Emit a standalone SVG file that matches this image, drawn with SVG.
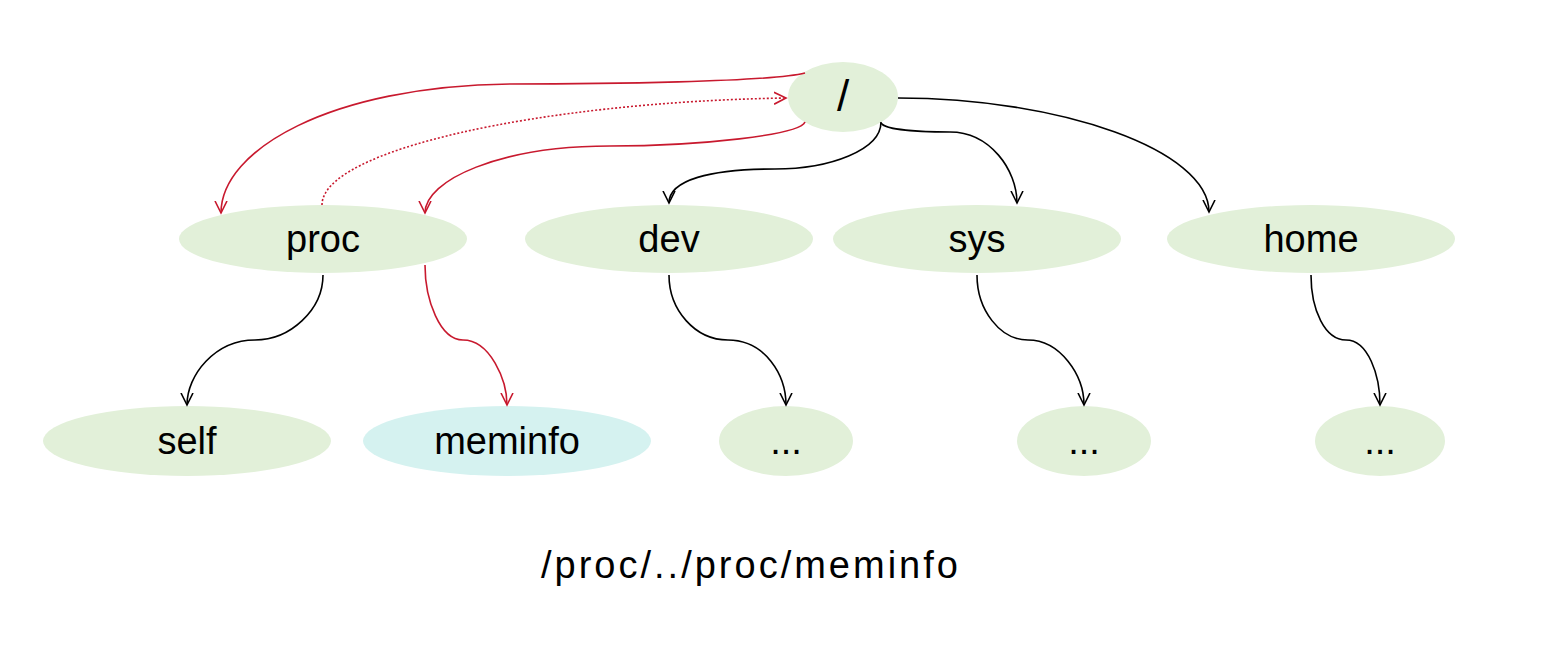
<svg xmlns="http://www.w3.org/2000/svg" width="1546" height="646" viewBox="0 0 1546 646">
<style>
.n{fill:#E2F0D9}
.hl{fill:#D5F2F0}
.t{font-family:"Liberation Sans",Arial,sans-serif;font-size:38px;fill:#000;text-anchor:middle}
.k{fill:none;stroke:#000;stroke-width:1.6}
.r{fill:none;stroke:#C8192E;stroke-width:1.6}
.d{stroke-dasharray:2 2}
</style>
<defs>
<marker id="ab" viewBox="-12 -8 14 16" markerWidth="14" markerHeight="16" refX="0" refY="0" orient="auto" markerUnits="userSpaceOnUse">
<path d="M-12,-6 L0,0 L-12,6" fill="none" stroke="#000" stroke-width="1.6"/>
</marker>
<marker id="ar" viewBox="-12 -8 14 16" markerWidth="14" markerHeight="16" refX="0" refY="0" orient="auto" markerUnits="userSpaceOnUse">
<path d="M-12,-6 L0,0 L-12,6" fill="none" stroke="#C8192E" stroke-width="1.6"/>
</marker>
</defs>
<rect width="1546" height="646" fill="#fff"/>
<g id="root"><ellipse class="n" cx="843" cy="97" rx="55" ry="35"/><text class="t" x="843" y="111" style="font-size:44px">/</text></g>
<g id="proc"><ellipse class="n" cx="323" cy="239" rx="144" ry="34"/><text class="t" x="323" y="252">proc</text></g>
<g id="dev"><ellipse class="n" cx="669" cy="239" rx="144" ry="34"/><text class="t" x="669" y="252">dev</text></g>
<g id="sys"><ellipse class="n" cx="977" cy="239" rx="144" ry="34"/><text class="t" x="977" y="252">sys</text></g>
<g id="home"><ellipse class="n" cx="1311" cy="239" rx="144" ry="34"/><text class="t" x="1311" y="252">home</text></g>
<g id="self"><ellipse class="n" cx="187" cy="441" rx="144" ry="35"/><text class="t" x="187" y="454">self</text></g>
<g id="meminfo"><ellipse class="hl" cx="507" cy="441" rx="144" ry="35"/><text class="t" x="507" y="454">meminfo</text></g>
<g id="devsub"><ellipse class="n" cx="786" cy="441" rx="67" ry="35"/><text class="t" x="786" y="454">...</text></g>
<g id="syssub"><ellipse class="n" cx="1084" cy="441" rx="67" ry="35"/><text class="t" x="1084" y="454">...</text></g>
<g id="homesub"><ellipse class="n" cx="1380" cy="441" rx="65" ry="35"/><text class="t" x="1380" y="454">...</text></g>
<g id="connectors">
<path class="k" marker-end="url(#ab)" d="M881,122 C881,150 830,169 775,169 C710,169 669,180 669,203"/>
<path class="k" marker-end="url(#ab)" d="M881,123 C885,130 920,132 950,132 C990,132 1017,170 1017,203"/>
<path class="k" marker-end="url(#ab)" d="M898,98 C1060,98 1209,150 1209,212"/>
<path class="r" marker-end="url(#ar)" d="M805,73 C770,82 600,84 510,84 C330,86 221,150 221,213"/>
<path class="r d" marker-end="url(#ar)" d="M322,205 C322,150 540,102 786,98"/>
<path class="r" marker-end="url(#ar)" d="M805,122 C800,135 700,146 610,146 C500,146 425,180 425,213"/>
<path class="r" marker-end="url(#ar)" d="M425,265 C425,300 440,340 463,340 C490,340 507,380 507,405"/>
<path class="k" marker-end="url(#ab)" d="M323,275 C323,310 290,340 255,340 C215,340 187,375 187,405"/>
<path class="k" marker-end="url(#ab)" d="M669,275 C669,310 695,340 728,340 C765,340 786,375 786,405"/>
<path class="k" marker-end="url(#ab)" d="M977,275 C977,310 1000,340 1028,340 C1060,340 1084,375 1084,405"/>
<path class="k" marker-end="url(#ab)" d="M1311,275 C1311,310 1325,340 1346,340 C1368,340 1380,375 1380,405"/>
</g>
<text x="541" y="578" style="font-family:'Liberation Sans',Arial,sans-serif;font-size:38px;letter-spacing:3px" fill="#000">/proc/../proc/meminfo</text>
</svg>
